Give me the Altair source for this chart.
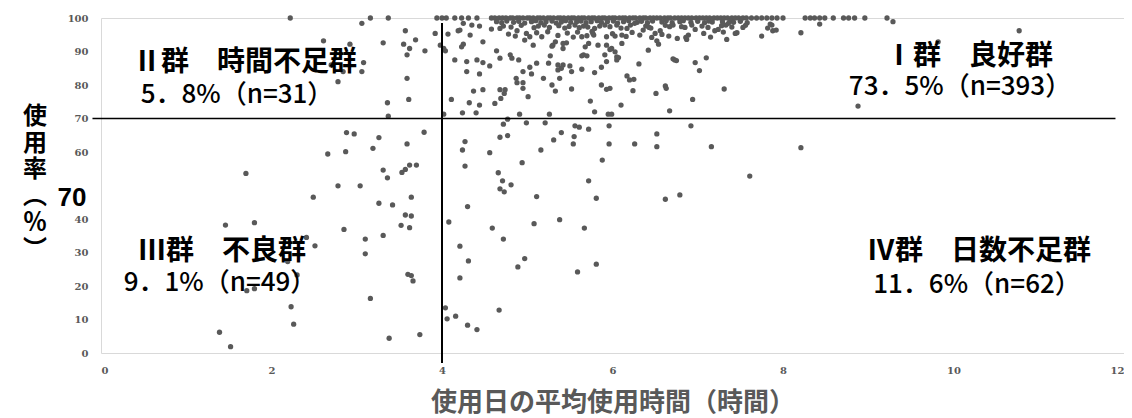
import altair as alt
import pandas as pd

# ---------------- data ----------------
x_ticks = [0, 2, 4, 6, 8, 10, 12]
y_ticks = [0, 10, 20, 30, 40, 50, 60, 70, 80, 90, 100]
x_title = "使用日の平均使用時間（時間）"
y_title_chars = ["使", "用", "率", "︵", "％", "︶"]
odd_label = "70"
q1_name, q1_share = "Ⅰ群　良好群", "73．5%（n=393）"
q2_name, q2_share = "Ⅱ群　時間不足群", "5．8%（n=31）"
q3_name, q3_share = "Ⅲ群　不良群", "9．1%（n=49）"
q4_name, q4_share = "Ⅳ群　日数不足群", "11．6%（n=62）"
cut_hours = 4
cut_rate = 70

# points sitting on the 100 % line
top_row_x = [4.00, 4.05, 4.15, 4.23, 4.31, 4.41, 4.58, 4.62, 4.67, 4.71, 4.75, 4.80, 4.83, 4.88,
             4.91, 4.95, 5.00, 5.03, 5.07, 5.12, 5.15, 5.19, 5.24, 5.27, 5.31, 5.36, 5.39, 5.43,
             5.48, 5.52, 5.55, 5.60, 5.64, 5.67, 5.72, 5.76, 5.79, 5.84, 5.88, 5.91, 5.96, 6.00,
             6.03, 6.08, 6.12, 6.15, 6.20, 6.24, 6.27, 6.32, 6.36, 6.39, 6.44, 6.48, 6.52, 6.56,
             6.61, 6.65, 6.68, 6.73, 6.77, 6.81, 6.85, 6.89, 6.93, 6.98, 7.02, 7.06, 7.10, 7.14,
             7.19, 7.23, 7.27, 7.31, 7.35, 7.40, 7.44, 7.48, 7.53, 7.57, 7.63, 7.69, 7.75, 7.81,
             7.87, 7.93, 8.00, 8.26, 8.32, 8.37, 8.43, 8.49, 8.59, 8.71, 8.77, 8.84, 8.96, 9.22]

# dense band just below 100 %
band_pts = [(4.64, 98.9), (4.70, 98.6), (4.76, 99.1), (4.84, 98.7), (4.90, 99.0), (4.97, 98.5),
            (5.05, 98.9), (5.10, 99.2), (5.16, 98.6), (5.22, 98.9), (5.29, 99.1), (5.34, 98.5),
            (5.40, 98.8), (5.45, 99.2), (5.51, 98.7), (5.58, 98.9), (5.63, 99.1), (5.69, 98.6),
            (5.75, 98.9), (5.82, 99.2), (5.87, 98.7), (5.94, 98.9), (6.01, 99.1), (6.06, 98.5),
            (6.13, 98.9), (6.19, 99.2), (6.29, 98.7), (6.34, 99.0), (6.41, 98.6), (6.47, 99.1),
            (6.58, 98.8), (6.63, 99.2), (6.70, 98.6), (6.79, 98.9), (6.83, 99.2), (6.92, 98.7),
            (7.00, 99.0), (7.08, 98.6), (7.13, 99.1), (7.17, 98.8), (7.29, 98.9), (7.38, 99.2),
            (7.42, 98.7), (7.50, 99.0), (7.58, 98.6),
            (4.81, 97.3), (4.93, 97.8), (5.08, 97.1), (5.13, 97.6), (5.20, 97.9), (5.26, 97.2),
            (5.37, 97.7), (5.44, 97.0), (5.49, 97.5), (5.56, 97.9), (5.61, 97.1), (5.66, 97.6),
            (5.71, 97.3), (5.97, 97.4), (6.05, 97.9), (6.10, 97.0), (6.39, 97.6), (6.45, 97.0),
            (6.62, 97.8), (6.81, 97.4), (6.93, 97.9), (7.12, 97.2), (7.28, 97.7), (7.40, 97.3),
            (7.56, 97.8),
            (4.78, 95.2), (4.86, 94.6), (5.11, 95.6), (5.17, 94.4), (5.24, 95.9), (5.36, 94.8),
            (5.47, 95.5), (5.54, 94.3), (5.59, 95.8), (5.70, 94.7), (5.76, 96.0), (6.00, 95.3),
            (6.16, 94.5), (6.23, 95.7), (6.46, 94.2), (6.58, 95.1), (6.66, 94.6), (7.07, 95.4),
            (7.15, 94.3), (7.30, 95.8)]

# I: good group, the rest of it
good_pts = [(4.07, 95.2), (4.19, 96.2), (4.04, 90.2), (4.15, 87.5), (4.11, 75.7), (4.02, 71.3),
            (4.21, 96.4), (4.25, 98.4), (4.35, 97.9), (4.44, 97.6), (4.25, 92.2), (4.23, 91.4),
            (4.33, 94.9), (4.48, 92.9), (4.02, 90.9), (4.29, 87.0), (4.41, 87.5), (4.48, 86.7),
            (4.58, 96.7), (4.68, 96.9), (4.72, 97.6), (4.64, 90.2), (4.80, 89.0), (4.90, 87.5),
            (4.68, 88.0), (4.88, 96.2), (4.99, 95.4), (4.97, 93.4), (5.03, 94.4), (5.07, 91.9),
            (5.11, 86.5), (5.03, 85.3), (5.25, 86.5), (5.27, 88.7), (5.29, 91.6), (5.33, 92.9),
            (5.42, 92.4), (5.46, 92.6), (5.36, 86.0), (5.42, 86.0), (5.50, 85.7), (5.66, 89.0),
            (5.68, 91.4), (5.72, 92.4), (5.64, 94.4), (5.78, 94.9),
            (4.56, 85.7), (5.40, 85.0), (5.36, 84.5), (5.52, 84.0), (5.64, 84.7), (5.79, 83.7),
            (5.87, 85.3), (5.93, 87.0), (6.05, 87.5), (6.31, 86.3), (6.73, 87.5), (6.97, 86.7),
            (7.02, 84.3), (4.29, 84.0), (4.44, 83.3), (4.95, 84.0), (5.05, 83.3), (5.19, 82.0),
            (5.38, 82.0), (6.17, 82.7), (6.20, 81.5), (6.25, 81.7), (4.37, 78.2), (4.48, 78.6),
            (4.68, 78.6), (4.74, 78.6), (4.87, 82.0), (4.88, 80.7), (4.95, 80.7), (4.95, 79.0),
            (5.29, 80.0), (5.33, 78.2), (5.52, 78.8), (5.87, 80.0), (5.93, 78.7), (5.97, 79.0),
            (6.24, 78.3), (6.51, 77.5), (6.62, 79.7), (6.63, 79.0), (7.31, 78.8), (4.73, 77.5),
            (4.69, 76.0), (4.62, 74.5), (4.32, 74.7), (4.44, 74.0), (5.01, 76.5), (5.74, 75.2),
            (6.10, 74.0), (6.94, 75.7), (4.24, 71.7), (4.40, 71.7), (4.91, 71.3), (5.26, 71.3),
            (5.79, 72.0), (5.95, 71.3), (5.99, 71.3), (6.67, 72.3),
            (5.79, 96.9), (5.85, 97.6), (5.91, 97.9), (5.77, 95.4), (5.93, 94.4), (6.03, 94.6),
            (6.11, 94.9), (6.11, 92.4), (5.83, 91.9), (5.93, 91.9), (5.99, 90.9), (6.03, 89.9),
            (5.91, 89.0), (6.05, 88.4), (6.42, 90.4), (6.52, 93.2), (6.54, 92.2), (6.32, 94.9),
            (6.36, 96.4), (6.43, 97.2), (6.50, 95.4), (6.56, 96.2), (6.21, 97.9), (6.26, 98.4),
            (6.17, 96.9), (6.67, 97.4), (6.71, 97.9), (6.76, 93.9), (6.87, 93.6), (6.89, 94.9),
            (6.85, 97.2), (6.97, 96.6), (7.05, 97.6), (6.71, 87.8), (6.75, 87.3), (7.10, 88.1),
            (7.20, 96.2), (7.24, 96.6), (7.33, 97.9), (7.36, 98.4), (7.46, 95.6), (7.53, 97.2),
            (7.34, 93.6), (4.82, 88.0), (5.30, 91.9), (5.42, 90.9), (5.64, 88.7), (5.70, 88.7),
            (5.97, 90.6), (6.07, 88.2), (6.86, 94.2), (7.44, 95.4),
            (7.85, 98.2), (7.82, 97.0), (7.75, 94.6), (7.88, 96.2), (7.92, 96.4), (8.21, 95.6),
            (9.29, 98.9), (10.77, 96.2), (9.82, 92.9), (8.88, 73.7), (8.43, 98.2), (7.87, 97.9)]

# II: short-hours group
short_time_pts = [(2.22, 100), (3.06, 98.4), (3.16, 100), (3.37, 100), (3.57, 96.2), (3.69, 93.5),
                  (3.55, 92.2), (3.62, 90.9), (3.59, 89.0), (3.80, 90.2), (3.31, 92.6), (2.61, 93.2),
                  (2.92, 92.2), (3.08, 86.7), (3.06, 84.0), (2.84, 84.0), (2.70, 86.0), (2.78, 81.0),
                  (3.59, 82.0), (3.61, 75.7), (3.36, 74.7), (3.37, 70.7), (3.94, 100), (3.92, 95.4),
                  (3.98, 91.9)]

# III: poor group
poor_pts = [(2.88, 65.8), (2.97, 65.4), (3.26, 64.3), (3.79, 65.9), (3.19, 61.1), (3.59, 62.4),
            (2.87, 60.1), (2.66, 59.4), (3.31, 54.6), (3.36, 52.3), (3.53, 53.9), (3.57, 54.8),
            (3.62, 56.1), (3.70, 56.1), (1.70, 53.6), (2.78, 49.9), (3.04, 49.9), (2.49, 46.5),
            (3.64, 46.5), (3.26, 44.7), (3.42, 44.2), (3.57, 41.2), (3.64, 40.9), (3.52, 38.1),
            (3.62, 37.4), (2.85, 36.9), (1.46, 38.2), (1.80, 38.9), (3.10, 34.0), (3.31, 35.1),
            (3.10, 29.6), (2.41, 34.5), (2.51, 32.0), (2.19, 27.3), (2.30, 23.3), (3.60, 23.5),
            (3.64, 23.1), (3.66, 21.5), (1.71, 18.6), (1.80, 19.2), (3.16, 16.3), (2.23, 13.8),
            (2.26, 8.6), (1.39, 6.2), (1.52, 1.9), (3.38, 4.4), (3.74, 5.5)]

# IV: too-few-days group
few_days_pts = [(4.04, 13.5), (4.06, 10.2), (4.16, 11.0), (4.08, 39.1), (4.71, 51.4), (4.81, 50.2),
                (4.68, 49.0), (4.73, 48.1), (5.11, 46.7), (5.72, 51.4), (5.81, 46.2), (6.62, 45.9),
                (6.79, 47.2), (4.30, 43.7), (4.59, 37.3), (5.08, 38.6), (5.38, 39.8), (5.67, 37.3),
                (4.72, 34.0), (4.21, 31.9), (4.31, 27.5), (4.97, 28.2), (4.89, 25.7), (5.59, 24.2),
                (5.81, 26.5), (4.21, 22.4), (4.30, 8.3), (4.41, 7.0), (4.67, 12.8), (8.21, 61.3),
                (7.61, 52.8), (4.72, 68.3), (4.77, 69.8), (4.99, 68.7), (5.21, 68.7), (5.56, 67.8),
                (5.61, 67.4), (5.72, 66.8), (5.96, 67.8), (6.92, 67.8), (4.68, 64.4), (4.77, 64.9),
                (4.27, 63.1), (4.24, 60.6), (4.27, 55.8), (4.56, 59.8), (4.94, 56.8), (5.16, 60.6),
                (5.31, 63.6), (5.40, 65.8), (5.55, 64.6), (5.54, 62.4), (5.96, 62.4), (5.88, 57.6),
                (6.26, 62.4), (6.52, 65.4), (6.52, 61.6), (7.16, 61.6), (4.66, 53.8)]

# ---------------- build table ----------------
rows = [(x, 100) for x in top_row_x] + band_pts + good_pts + short_time_pts + poor_pts + few_days_pts
df = pd.DataFrame(rows, columns=["hours", "rate"])

W, H = 1023, 335
GRAY = "#595959"
CJK = "Noto Sans CJK JP"

xs = alt.Scale(domain=[0, 12], nice=False, zero=False)
ys = alt.Scale(domain=[0, 100], nice=False, zero=False)

x_axis = alt.Axis(
    values=x_ticks, format="d", title=x_title, grid=False, ticks=False, domain=False,
    labelOverlap=False, labelFlush=True,
    labelFont="DejaVu Serif", labelFontWeight="bold", labelFontSize=10, labelColor=GRAY,
    labelPadding=12, titleFont=CJK, titleFontSize=26, titleFontWeight="bold",
    titleColor=GRAY, titlePadding=14)
y_axis = alt.Axis(
    values=y_ticks, format="d", title=None, grid=False, ticks=False, domain=False,
    labelOverlap=False,
    labelExpr="datum.value == 50 ? '' : datum.label",
    labelFont="DejaVu Serif", labelFontWeight="bold", labelFontSize=10, labelColor=GRAY,
    labelPadding=13)

points = alt.Chart(df).mark_circle(size=28, color=GRAY, opacity=1).encode(
    x=alt.X("hours:Q", scale=xs, axis=x_axis),
    y=alt.Y("rate:Q", scale=ys, axis=y_axis),
)

vline = alt.Chart(pd.DataFrame({"hours": [cut_hours], "rate": [98.5], "rate2": [-3]})).mark_rule(
    color="black", strokeWidth=2, clip=False).encode(
    x=alt.X("hours:Q", scale=xs, axis=x_axis), y=alt.Y("rate:Q", scale=ys, axis=y_axis), y2="rate2:Q")
hline = alt.Chart(pd.DataFrame({"rate": [cut_rate], "hours": [-0.1], "hours2": [11.9]})).mark_rule(
    color="black", strokeWidth=1.5, clip=False).encode(
    y=alt.Y("rate:Q", scale=ys, axis=y_axis), x=alt.X("hours:Q", scale=xs, axis=x_axis), x2="hours2:Q")


def label(text, px, py, size, weight, color="black", font=CJK, **kw):
    return alt.Chart(pd.DataFrame({"t": [text]})).mark_text(
        font=font, fontSize=size, fontWeight=weight, color=color, align="center",
        baseline="middle", **kw).encode(text="t:N", x=alt.value(px), y=alt.value(py))


texts = [
    label(q2_name, 144, 45, 28, "bold"),
    label(q2_share, 136, 77, 26, 500),
    label(q1_name, 868, 39, 28, "bold"),
    label(q1_share, 859, 69, 26, 500),
    label(q3_name, 121, 234, 28, "bold"),
    label(q3_share, 119, 265, 26, 500),
    label(q4_name, 878, 234, 28, "bold"),
    label(q4_share, 876, 267, 26, 500),
    label(odd_label, -29, 180, 26, "bold", font="Liberation Sans"),
]
# vertical y-axis title, one character per line
for i, ch in enumerate(y_title_chars):
    texts.append(label(ch, -66, 99 + 26.5 * i, 24, "bold"))

chart = alt.layer(points, vline, hline, *texts).properties(
    width=W, height=H,
    autosize=alt.AutoSizeParams(type="none"),
    padding={"left": 93, "top": 10, "right": 0, "bottom": 64},
).configure_view(stroke="#d9d9d9", strokeWidth=1)

chart.save("out.html", embed_options={"renderer": "svg", "actions": False})
